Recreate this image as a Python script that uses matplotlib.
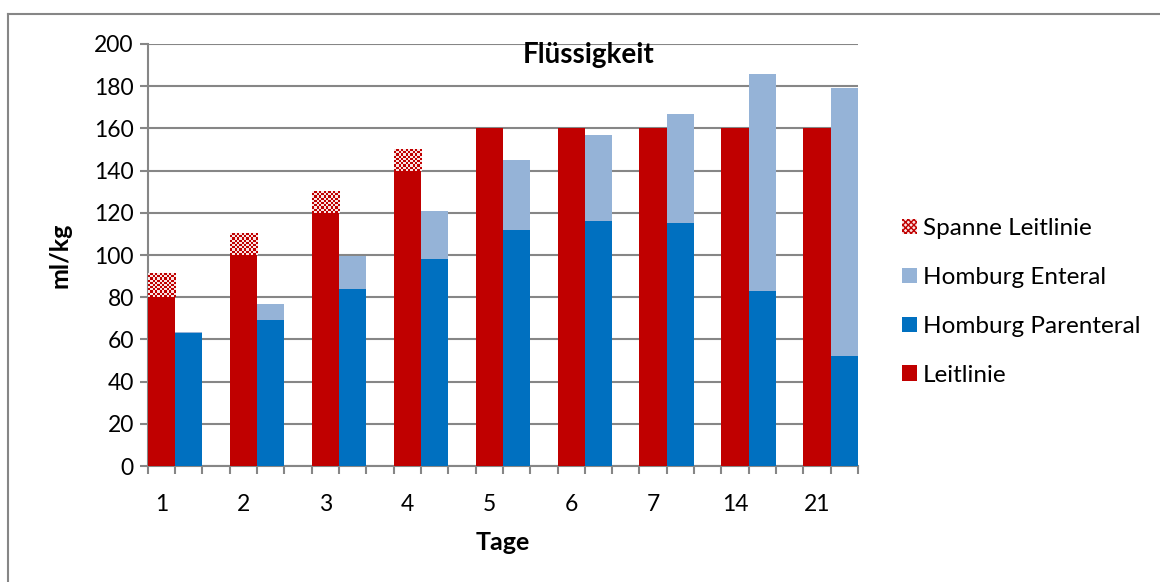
"""
Flüssigkeitszufuhr: Leitlinie vs. Homburg (parenteral / enteral), ml/kg je Tag.
"""

import numpy as np
import matplotlib.pyplot as plt
from matplotlib.patches import Patch
from matplotlib.lines import Line2D

plt.rcParams["font.family"] = ["Lato", "DejaVu Sans"]

tage = ["1", "2", "3", "4", "5", "6", "7", "14", "21"]
leitlinie = [80, 100, 120, 140, 160, 160, 160, 160, 160]
spanne_leitlinie = [11, 10, 10, 10, 0, 0, 0, 0, 0]
homburg_parenteral = [63, 69, 84, 98, 112, 116, 115, 83, 52]
homburg_enteral = [0.6, 8, 15.5, 23, 33, 41, 52, 102.6, 127.3]

ROT = "#C00000"
BLAU = "#0070C0"
HELLBLAU = "#95B3D7"
GRAU = "#868686"

fig = plt.figure(figsize=(11.6, 5.82), dpi=100)
ax = fig.add_axes([0.1273, 0.1993, 0.6124, 0.7251])

x = np.arange(len(tage))
w = 1 / 3

ax.bar(x, leitlinie, width=w, color=ROT, zorder=3)
spanne_bars = ax.bar(x, spanne_leitlinie, width=w, bottom=leitlinie,
                     color="none", zorder=3)
ax.bar(x + w, homburg_parenteral, width=w, color=BLAU, zorder=3)
ax.bar(x + w, homburg_enteral, width=w, bottom=homburg_parenteral,
       color=HELLBLAU, zorder=3)

ax.set_xlim(-w / 2, len(tage) - 1 + 1.5 * w)
ax.set_ylim(0, 200)

# Karomuster für die Spanne der Leitlinie
fig.canvas.draw()
cell = 2.2  # Pixel je Karo
for rect in spanne_bars:
    if rect.get_height() <= 0:
        continue
    x0, y0 = rect.get_x(), rect.get_y()
    x1, y1 = x0 + rect.get_width(), y0 + rect.get_height()
    p0 = ax.transData.transform((x0, y0))
    p1 = ax.transData.transform((x1, y1))
    nx = max(1, int(round(abs(p1[0] - p0[0]) / cell)))
    ny = max(1, int(round(abs(p1[1] - p0[1]) / cell)))
    checker = np.add.outer(np.arange(ny), np.arange(nx)) % 2
    rgb = np.ones((ny, nx, 3))
    rgb[checker == 0] = [0.98, 0.90, 0.90]
    rgb[checker == 1] = [0xC0 / 255, 0, 0]
    ax.imshow(rgb, extent=(x0, x1, y0, y1), aspect="auto",
              interpolation="nearest", zorder=3)
ax.set_xlim(-w / 2, len(tage) - 1 + 1.5 * w)
ax.set_ylim(0, 200)

# Achsen und Gitter
ax.set_yticks(np.arange(0, 201, 20))
ax.yaxis.grid(True, color=GRAU, linewidth=1.5, zorder=0)
ax.set_axisbelow(True)
for side in ["top", "right"]:
    ax.spines[side].set_visible(False)
for side in ["left", "bottom"]:
    ax.spines[side].set_color(GRAU)
    ax.spines[side].set_linewidth(1.5)
ax.tick_params(axis="y", length=6, width=1.5, color=GRAU, labelsize=16.5,
               pad=4)
ax.set_xticks(x)
ax.set_xticklabels(tage)
ax.set_xticks(np.arange(-w / 2, len(tage) - 0.5 + 1e-6, w), minor=True)
ax.tick_params(axis="x", which="major", length=0, labelsize=16.5, pad=20)
ax.tick_params(axis="x", which="minor", length=6, width=1.5, color=GRAU)

ax.text(0.621, 0.974, "Flüssigkeit", transform=ax.transAxes, ha="center",
        va="center", fontsize=20, fontweight="bold")
fig.text(503 / 1160, 1 - 543 / 582, "Tage", ha="center", va="center",
         fontsize=18, fontweight="bold")
fig.text(60 / 1160, 1 - 255 / 582, "ml/kg", ha="center", va="center",
         rotation=90, fontsize=18, fontweight="bold")

# Legende
handles = [
    Patch(facecolor="#FAE6E6", edgecolor=ROT, hatch="xxxxxx", linewidth=0),
    Patch(facecolor=HELLBLAU),
    Patch(facecolor=BLAU),
    Patch(facecolor=ROT),
]
labels = ["Spanne Leitlinie", "Homburg Enteral", "Homburg Parenteral",
          "Leitlinie"]
fig.legend(handles, labels, loc="center left",
           bbox_to_anchor=(880 / 1160, 1 - 302 / 582), frameon=False,
           fontsize=17.5, handlelength=0.62, handleheight=0.62,
           handletextpad=0.25, labelspacing=1.15)

# Rahmen um das Diagramm
fig.add_artist(Line2D([8 / 1160, 1], [1 - 14 / 582, 1 - 14 / 582],
                      transform=fig.transFigure, color=GRAU, linewidth=1.5))
fig.add_artist(Line2D([8 / 1160, 8 / 1160], [0, 1 - 14 / 582],
                      transform=fig.transFigure, color=GRAU, linewidth=1.5))

fig.savefig("out.png", dpi=100)
